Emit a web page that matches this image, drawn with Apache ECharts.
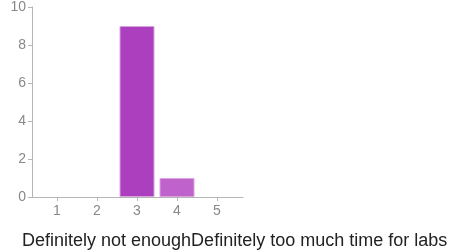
<!DOCTYPE html>
<html>
<head>
<meta charset="utf-8">
<script src="https://cdn.jsdelivr.net/npm/echarts@6/dist/echarts.min.js"></script>
<style>
  html, body { margin: 0; padding: 0; background: #fff; }
  #chart { width: 453px; height: 252px; }
</style>
</head>
<body>
<div id="chart"></div>
<script>
const categories = [1, 2, 3, 4, 5];
const counts = [0, 0, 9, 1, 0];
const barColors = ['#ab3fbd', '#ab3fbd', '#ab3fbd', '#bf62cb', '#ab3fbd'];
const yTicks = [0, 2, 4, 6, 8, 10];
const title = 'Definitely not enoughDefinitely too much time for labs';

const chart = echarts.init(document.getElementById('chart'));
chart.setOption({
    animation: false,
    title: {
        text: title,
        left: 17,
        top: 227,
        textStyle: { fontFamily: 'Liberation Sans', fontSize: 18, fontWeight: 'normal', color: '#222' }
    },
    grid: { left: 32, right: 210, top: 7, bottom: 55 },
    xAxis: {
        type: 'value',
        min: 0.375,
        max: 5.65,
        splitLine: { show: false },
        axisLine: { lineStyle: { color: '#b5b5b5' } },
        axisTick: { show: true, length: 4, lineStyle: { color: '#b5b5b5' }, customValues: categories },
        axisLabel: { customValues: categories, color: '#888', fontFamily: 'Liberation Sans', fontSize: 14, margin: 7 }
    },
    yAxis: {
        type: 'value',
        min: 0,
        max: 10,
        interval: 2,
        splitLine: { show: false },
        axisLine: { show: true, lineStyle: { color: '#b5b5b5' } },
        axisTick: { show: true, length: 4, lineStyle: { color: '#b5b5b5' } },
        axisLabel: { color: '#888', fontFamily: 'Liberation Sans', fontSize: 14, margin: 6,
            formatter: v => yTicks.includes(v) ? String(v) : '' }
    },
    series: [{
        type: 'bar',
        barWidth: 35,
        data: categories.map((c, i) => ({
            value: [c, counts[i]],
            itemStyle: { color: barColors[i], borderColor: '#d9a3e0', borderWidth: 1 }
        })).filter(d => d.value[1] > 0)
    }]
});
</script>
</body>
</html>
